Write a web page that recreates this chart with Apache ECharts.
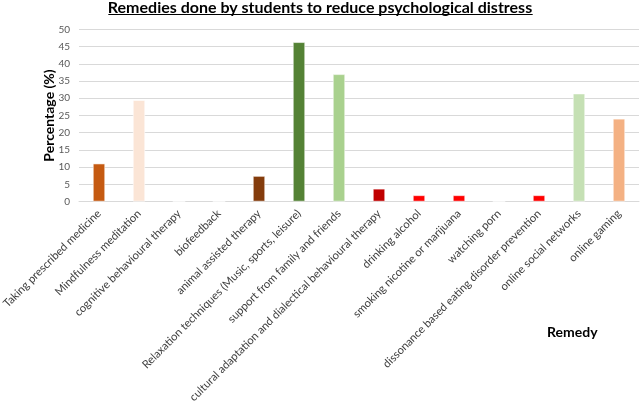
<!DOCTYPE html>
<html>
<head>
<meta charset="utf-8">
<script src="https://cdn.jsdelivr.net/npm/echarts@6/dist/echarts.min.js"></script>
<style>
html,body{margin:0;padding:0;background:#fff;}
#chart{width:640px;height:408px;}
</style>
</head>
<body>
<div id="chart"></div>
<script>
const chartTitle = 'Remedies done by students to reduce psychological distress';
const yAxisTitle = 'Percentage (%)';
const xAxisTitle = 'Remedy';
const categories = [
  'Taking prescribed medicine',
  'Mindfulness meditation',
  'cognitive behavioural therapy',
  'biofeedback',
  'animal assisted therapy',
  'Relaxation techniques (Music, sports, leisure)',
  'support from family and friends',
  'cultural adaptation and dialectical behavioural therapy',
  'drinking alcohol',
  'smoking nicotine or marijuana',
  'watching porn',
  'dissonance based eating disorder prevention',
  'online social networks',
  'online gaming'
];
const percentages = [11.1, 29.5, 0, 0, 7.5, 46.3, 37.0, 3.8, 1.9, 1.9, 0, 1.9, 31.4, 24.1];
const barColors = ['#C55A11', '#FBE5D6', '#C55A11', '#C55A11', '#843C0C', '#548235', '#A9D18E',
  '#C00000', '#FF0000', '#FF0000', '#FF0000', '#FF0000', '#C5E0B4', '#F4B183'];
const yTicks = [0, 5, 10, 15, 20, 25, 30, 35, 40, 45, 50];

const FONT = 'Lato, "Open Sans", sans-serif';
const chart = echarts.init(document.getElementById('chart'), null, {renderer: 'canvas'});

// measure title width for underline
const ctx = document.createElement('canvas').getContext('2d');
ctx.font = 'bold 16px Lato';
const tw = ctx.measureText(chartTitle).width;
const cx = 320.5;

chart.setOption({
  animation: false,
  backgroundColor: '#fff',
  title: [
    {
      text: chartTitle,
      left: 'center',
      top: 0,
      padding: 0,
      textStyle: {fontFamily: FONT, fontSize: 16, fontWeight: 'bold', color: '#000'}
    },
    {
      text: xAxisTitle,
      left: 547,
      top: 325,
      padding: 0,
      textStyle: {fontFamily: FONT, fontSize: 14, fontWeight: 'bold', color: '#000'}
    }
  ],
  graphic: [{
    type: 'line',
    shape: {x1: cx - tw / 2, y1: 14.5, x2: cx + tw / 2, y2: 14.5},
    style: {stroke: '#000', lineWidth: 1.2}
  }],
  grid: {left: 79, right: 1, top: 29.3, bottom: 206.3, containLabel: false, outerBoundsMode: 'none'},
  xAxis: {
    type: 'category',
    data: categories,
    axisTick: {show: false},
    axisLine: {show: true, lineStyle: {color: '#d9d9d9', width: 1}},
    axisLabel: {
      interval: 0,
      rotate: 45,
      margin: 10,
      fontFamily: FONT,
      fontSize: 11.2,
      color: '#404040'
    }
  },
  yAxis: {
    type: 'value',
    min: 0,
    max: 50,
    interval: 5,
    name: yAxisTitle,
    nameLocation: 'middle',
    nameRotate: 90,
    nameGap: 23,
    nameMoveOverlap: false,
    nameTextStyle: {fontFamily: FONT, fontSize: 14, fontWeight: 'bold', color: '#000'},
    axisLine: {show: false},
    axisTick: {show: false},
    axisLabel: {
      margin: 9,
      fontFamily: FONT,
      fontSize: 10,
      color: '#595959',
      formatter: function (v) { return yTicks.indexOf(v) >= 0 ? String(v) : ''; }
    },
    splitLine: {lineStyle: {color: '#d9d9d9', width: 1}}
  },
  series: [{
    type: 'bar',
    barWidth: 12.5,
    data: percentages.map((v, i) => ({
      value: v,
      itemStyle: {color: barColors[i], borderColor: 'rgba(255,255,255,0.55)', borderWidth: 1}
    }))
  }]
});
</script>
</body>
</html>
